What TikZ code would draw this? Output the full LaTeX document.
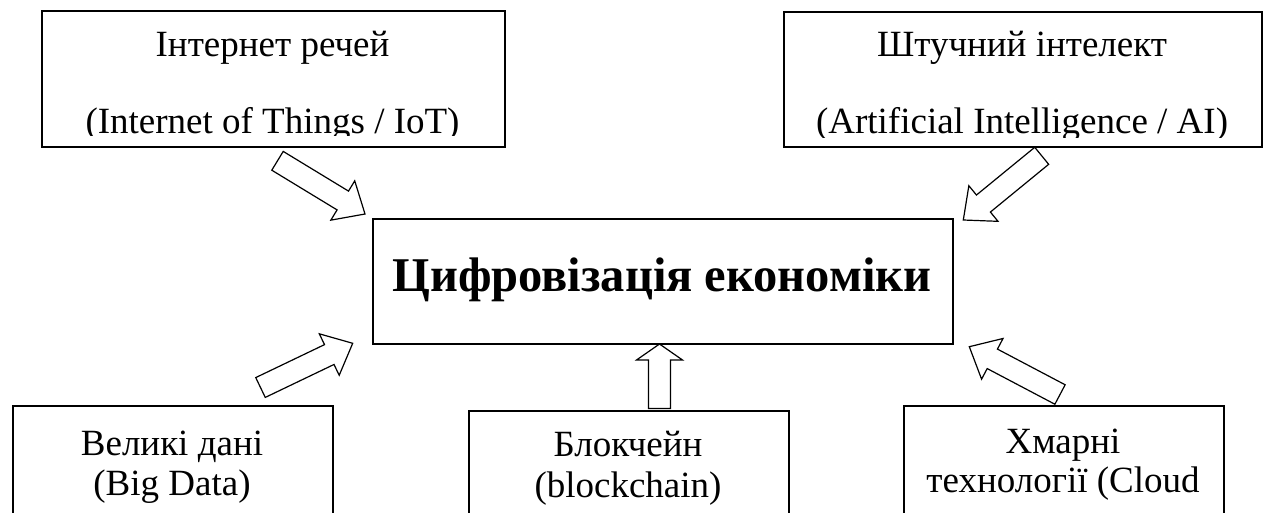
\documentclass[tikz,border=0pt]{standalone}
\usepackage{fontspec}
\setmainfont{Liberation Serif}
\usetikzlibrary{calc}
\tikzset{
  box/.style={draw=black, line width=1.8pt, fill=none},
  lbl/.style={inner sep=0pt, anchor=base, font=\fontsize{37}{42}\selectfont},
  ttl/.style={inner sep=0pt, anchor=base, font=\fontsize{48.5}{56}\selectfont\bfseries},
  barrow/.style={draw=black, fill=white, line width=1.2pt, line join=miter}
}
\newcommand\blockarr[3]{%
  \coordinate (#1-n) at ($(#2)!#3!(#1)$);
  \draw[barrow] ($(#1)!11pt!90:(#2)$) -- ($(#1-n)!11pt!90:(#2)$) -- ($(#1-n)!23pt!90:(#2)$)
     -- (#2) -- ($(#1-n)!23pt!-90:(#2)$) -- ($(#1-n)!11pt!-90:(#2)$) -- ($(#1)!11pt!-90:(#2)$) -- cycle;
}
\begin{document}
\begin{tikzpicture}[x=1pt,y=-1pt]
\clip (0,0) rectangle (1265,512);
\fill[white] (0,0) rectangle (1265,512);
% boxes
\node[box, minimum width=463pt, minimum height=136pt, anchor=north west, inner sep=0pt] (iot) at (41,10) {};
\node[box, minimum width=478pt, minimum height=135pt, anchor=north west, inner sep=0pt] (ai) at (783,11) {};
\node[box, minimum width=580pt, minimum height=125pt, anchor=north west, inner sep=0pt] (dig) at (372,218) {};
\node[box, minimum width=320pt, minimum height=140pt, anchor=north west, inner sep=0pt] (big) at (12,405) {};
\node[box, minimum width=320pt, minimum height=140pt, anchor=north west, inner sep=0pt] (blk) at (468,410) {};
\node[box, minimum width=320pt, minimum height=140pt, anchor=north west, inner sep=0pt] (cld) at (903,405) {};
% texts
\begin{scope}
  \clip (43,12) rectangle (502,135);
  \node[lbl] (iot1) at (272.5,56.7) {Інтернет речей};
  \node[lbl] (iot2) at (272.5,133.5) {(Internet of Things / IoT)};
\end{scope}
\begin{scope}
  \clip (785,13) rectangle (1259,137);
  \node[lbl] (ai1) at (1022,56) {Штучний інтелект};
  \node[lbl] (ai2) at (1022,133) {(Artificial Intelligence / AI)};
\end{scope}
\node[ttl] (dig1) at (662,291) {Цифровізація економіки};
\node[lbl] (big1) at (172,455) {Великі дані};
\node[lbl] (big2) at (172,495) {(Big Data)};
\node[lbl] (blk1) at (628,456.7) {Блокчейн};
\node[lbl] (blk2) at (628,497) {(blockchain)};
\node[lbl] (cld1) at (1063,453) {Хмарні};
\node[lbl] (cld2) at (1063,492) {технології (Cloud};
% arrow end points
\coordinate (a1s) at (277.5,160.8); \coordinate (a1e) at (365,214);
\coordinate (a2s) at (1041.7,155.8); \coordinate (a2e) at (963.3,220);
\coordinate (a3s) at (260.5,387.5); \coordinate (a3e) at (352.7,343.3);
\coordinate (a4s) at (659.5,408.5); \coordinate (a4e) at (659.5,344);
\coordinate (a5s) at (1060,394.5); \coordinate (a5e) at (969.3,346.7);
\blockarr{a1s}{a1e}{26pt}
\blockarr{a2s}{a2e}{26pt}
\blockarr{a3s}{a3e}{26pt}
\blockarr{a4s}{a4e}{16pt}
\blockarr{a5s}{a5e}{26pt}
\end{tikzpicture}
\end{document}
